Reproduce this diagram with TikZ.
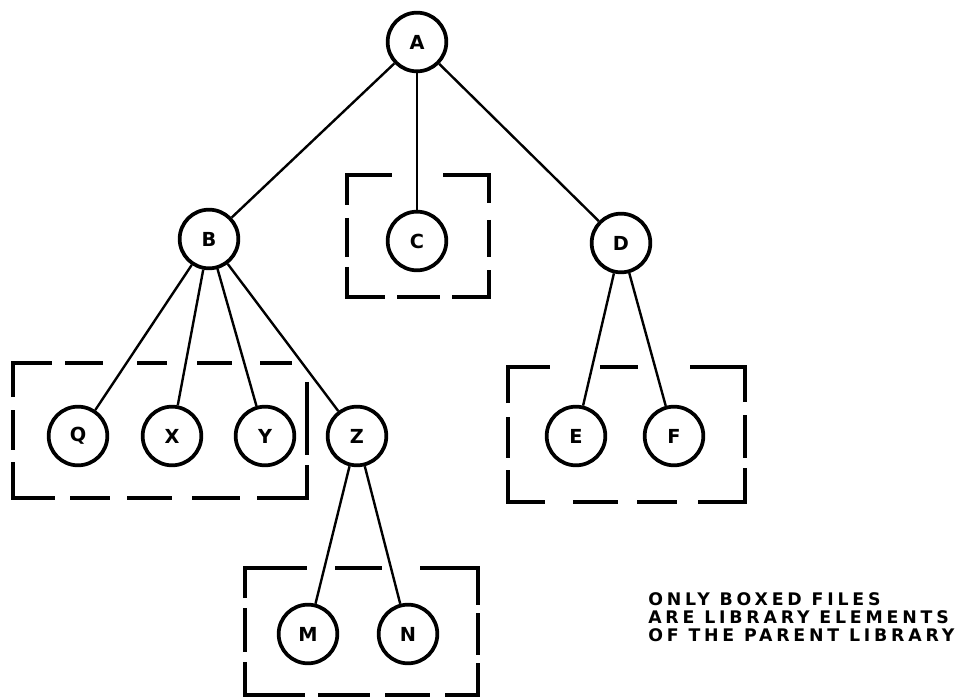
\documentclass[tikz,border=0pt]{standalone}
\usepackage{fontspec}
\setmainfont{DejaVu Sans}
\newfontfamily\notefont[LetterSpace=22]{DejaVu Sans}
\begin{document}
\begin{tikzpicture}[x=0.75pt,y=-0.75pt,
  fnode/.style={circle,draw,line width=2.8pt,minimum size=44pt,inner sep=0pt,
    font=\bfseries\fontsize{14.5}{14.5}\selectfont},
  link/.style={line width=1.8pt},
  bx/.style={line width=3pt,line join=miter}]
\useasboundingbox (0,0) rectangle (967,698);
% nodes
\node[fnode] (A) at (417,42) {A};
\node[fnode] (B) at (209,239) {B};
\node[fnode] (C) at (417,241) {C};
\node[fnode] (D) at (621,243) {D};
\node[fnode] (Q) at (78,436) {Q};
\node[fnode] (X) at (172,436) {X};
\node[fnode] (Y) at (265,436) {Y};
\node[fnode] (Z) at (357,436) {Z};
\node[fnode] (E) at (576,436) {E};
\node[fnode] (F) at (674,436) {F};
\node[fnode] (M) at (308,634) {M};
\node[fnode] (N) at (408,634) {N};
% connectors
\draw[link] (A) -- (B);
\draw[link] (A) -- (C);
\draw[link] (A) -- (D);
\draw[link] (B) -- (Q);
\draw[link] (B) -- (X);
\draw[link] (B) -- (Y);
\draw[link] (B) -- (Z);
\draw[link] (D) -- (E);
\draw[link] (D) -- (F);
\draw[link] (Z) -- (M);
\draw[link] (Z) -- (N);
% box around C
\draw[bx] (347,205)--(347,175)--(392,175);
\draw[bx] (443,175)--(489,175)--(489,203);
\draw[bx] (347,267)--(347,297)--(385,297);
\draw[bx] (452,297)--(489,297)--(489,270);
\draw[bx] (347,218)--(347,257);
\draw[bx] (489,220)--(489,257);
\draw[bx] (397,297)--(440,297);
% box around Q X Y
\draw[bx] (13,397)--(13,363)--(52,363);
\draw[bx] (65,363)--(103,363);
\draw[bx] (137,363)--(167,363);
\draw[bx] (197,363)--(232,363);
\draw[bx] (260,363)--(292,363);
\draw[bx] (13,410)--(13,450);
\draw[bx] (13,462)--(13,498)--(55,498);
\draw[bx] (70,498)--(110,498);
\draw[bx] (127,498)--(172,498);
\draw[bx] (192,498)--(240,498);
\draw[bx] (257,498)--(307,498)--(307,465);
\draw[bx] (307,382)--(307,455);
% box around E F
\draw[bx] (508,403)--(508,367)--(550,367);
\draw[bx] (600,367)--(638,367);
\draw[bx] (690,367)--(745,367)--(745,402);
\draw[bx] (508,417)--(508,458);
\draw[bx] (745,415)--(745,458);
\draw[bx] (508,470)--(508,502)--(545,502);
\draw[bx] (573,502)--(618,502);
\draw[bx] (637,502)--(677,502);
\draw[bx] (698,502)--(745,502)--(745,468);
% box around M N
\draw[bx] (245,598)--(245,568)--(307,568);
\draw[bx] (335,568)--(382,568);
\draw[bx] (420,568)--(478,568)--(478,605);
\draw[bx] (245,608)--(245,652);
\draw[bx] (478,613)--(478,655);
\draw[bx] (245,662)--(245,695)--(305,695);
\draw[bx] (318,695)--(370,695);
\draw[bx] (385,695)--(430,695);
\draw[bx] (445,695)--(478,695)--(478,663);
% note
\node[anchor=north west,align=left,inner sep=0pt,
  font=\notefont\bfseries\fontsize{13}{13.5}\selectfont] (note) at (648,592)
  {ONLY BOXED FILES\\ARE LIBRARY ELEMENTS\\OF THE PARENT LIBRARY};
\end{tikzpicture}
\end{document}
